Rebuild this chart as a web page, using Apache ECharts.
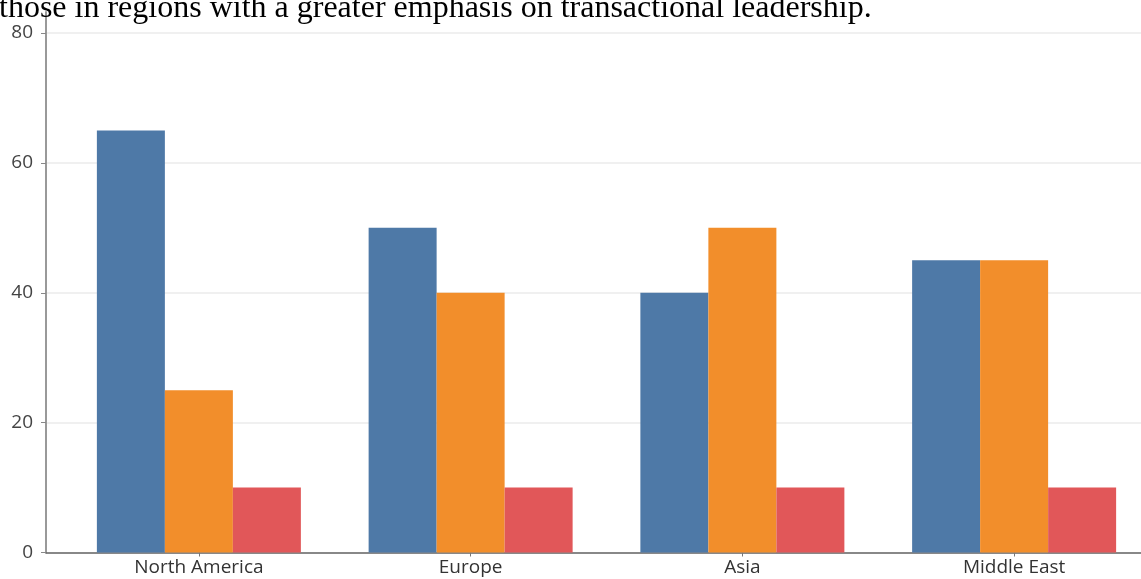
<!DOCTYPE html>
<html>
<head>
<meta charset="utf-8">
<script src="https://cdn.jsdelivr.net/npm/echarts@6/dist/echarts.min.js"></script>
<style>
html,body{margin:0;padding:0;background:#fff;overflow:hidden;}
#chart{width:1150px;height:579px;}
</style>
</head>
<body>
<div id="chart"></div>
<script>
var headline = 'those in regions with a greater emphasis on transactional leadership.';
var categories = ['North America', 'Europe', 'Asia', 'Middle East'];
var seriesNames = ['Transformational', 'Transactional', 'Other'];
var transformational = [65, 50, 40, 45];
var transactional = [25, 40, 50, 45];
var other = [10, 10, 10, 10];
var yTicks = [0, 20, 40, 60, 80];

var colors = ['#4e79a7', '#f28e2b', '#e15759'];
var chart = echarts.init(document.getElementById('chart'), null, {renderer: 'canvas'});
var labelFont = 'Open Sans';

var option = {
  animation: false,
  backgroundColor: '#fff',
  title: {
    text: headline,
    left: -1,
    top: -7,
    padding: 0,
    textStyle: {fontFamily: 'Liberation Serif', fontSize: 32, fontWeight: 'normal', color: '#000'}
  },
  grid: [
    {left: 46, right: 0, top: 33, bottom: 26.5, containLabel: false, outerBoundsMode: 'none'},
    {left: 46, right: 0, top: 12, bottom: 26.5, containLabel: false, outerBoundsMode: 'none'},
    {left: 63, right: 0, top: 33, bottom: 26.5, containLabel: false, outerBoundsMode: 'none'}
  ],
  xAxis: [
    {gridIndex: 0, type: 'value', min: 0, max: 1,
      axisLine: {show: true, lineStyle: {color: '#666', width: 1.5}},
      axisTick: {show: false}, axisLabel: {show: false}, splitLine: {show: false}},
    {gridIndex: 1, type: 'value', show: false, min: 0, max: 1},
    {gridIndex: 2, type: 'category', data: categories,
      axisLine: {show: false},
      axisTick: {show: true, alignWithLabel: true, length: 4, lineStyle: {color: '#777'}},
      axisLabel: {margin: 6, fontFamily: labelFont, fontSize: 19, color: '#333'},
      splitLine: {show: false}}
  ],
  yAxis: [
    {gridIndex: 0, type: 'value', min: yTicks[0], max: yTicks[yTicks.length - 1], interval: 20,
      axisLine: {show: false},
      axisTick: {show: true, length: 5, lineStyle: {color: '#888'}},
      axisLabel: {margin: 13, fontFamily: labelFont, fontSize: 19, color: '#444'},
      splitLine: {show: true, lineStyle: {color: '#ebebeb', width: 1.5}}},
    {gridIndex: 1, type: 'value', min: 0, max: 1,
      axisLine: {show: true, lineStyle: {color: '#999', width: 2}},
      axisTick: {show: false}, axisLabel: {show: false}, splitLine: {show: false}},
    {gridIndex: 2, type: 'value', min: yTicks[0], max: yTicks[yTicks.length - 1], show: false}
  ],
  series: [
    {name: seriesNames[0], type: 'bar', xAxisIndex: 2, yAxisIndex: 2, data: transformational,
      barWidth: 68, barGap: '0%', itemStyle: {color: colors[0]}},
    {name: seriesNames[1], type: 'bar', xAxisIndex: 2, yAxisIndex: 2, data: transactional,
      barWidth: 68, barGap: '0%', itemStyle: {color: colors[1]}},
    {name: seriesNames[2], type: 'bar', xAxisIndex: 2, yAxisIndex: 2, data: other,
      barWidth: 68, barGap: '0%', itemStyle: {color: colors[2]}}
  ]
};
chart.setOption(option);
</script>
</body>
</html>
